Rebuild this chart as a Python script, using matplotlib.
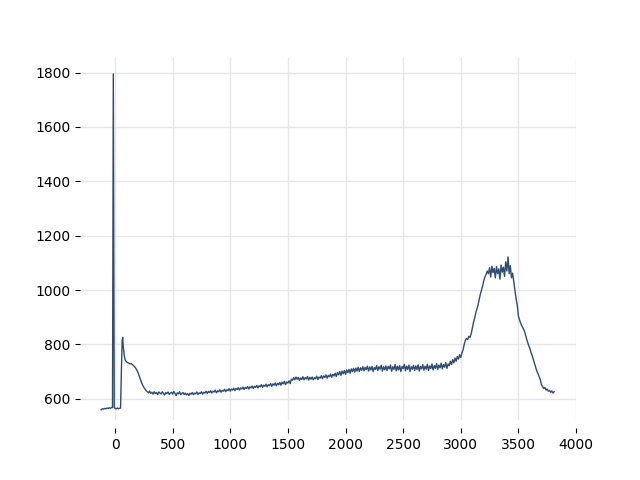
import matplotlib
matplotlib.use('Agg')
import matplotlib.pyplot as plt
import numpy as np

# leading part: baseline, narrow spike, second bump
x_start = [-120, -110, -100, -90, -80, -70, -60, -50, -40, -30, -22, -15, -7,
           0, 10, 20, 30, 40, 48, 55, 62, 66, 72, 80, 88]
y_start = [560, 563, 562, 565, 563, 566, 564, 567, 565, 568, 568, 1795, 568,
           565, 563, 566, 564, 565, 566, 700, 815, 826, 790, 760, 742]

# rest of the trace, one value every 10 units from x = 100
step = 10
y_main = [
    736, 733, 731, 728, 730, 726, 722, 718, 712, 705,           # 100
    696, 684, 672, 660, 650, 642, 636, 630, 626, 622,           # 200
    628, 620, 624, 617, 626, 619, 623, 615, 625, 621,           # 300
    618, 626, 620, 614, 623, 619, 625, 616, 621, 624,           # 400
    617, 627, 620, 612, 622, 618, 626, 615, 620, 623,           # 500
    616, 621, 614, 619, 612, 620, 617, 623, 615, 621,           # 600
    618, 625, 616, 622, 619, 626, 617, 624, 621, 628,           # 700
    620, 627, 623, 630, 621, 628, 625, 632, 622, 629,           # 800
    626, 633, 624, 631, 628, 635, 626, 633, 630, 637,           # 900
    628, 636, 632, 639, 630, 638, 634, 641, 632, 640,           # 1000
    636, 643, 634, 642, 638, 645, 636, 644, 640, 647,           # 1100
    638, 646, 642, 649, 640, 648, 644, 652, 642, 650,           # 1200
    646, 654, 644, 652, 648, 656, 646, 655, 650, 658,           # 1300
    648, 657, 652, 660, 650, 661, 655, 664, 652, 662,           # 1400
    658, 666, 656, 672, 668, 678, 670, 680, 672, 679,           # 1500
    668, 677, 671, 681, 670, 678, 673, 682, 669, 679,           # 1600
    672, 680, 670, 678, 674, 683, 671, 680, 676, 685,           # 1700
    674, 684, 678, 688, 676, 686, 681, 691, 679, 690,           # 1800
    684, 694, 682, 696, 688, 700, 686, 702, 692, 704,           # 1900
    690, 706, 696, 708, 694, 710, 700, 712, 698, 713,           # 2000
    702, 716, 700, 714, 705, 718, 703, 716, 707, 720,           # 2100
    702, 717, 706, 719, 700, 715, 708, 722, 704, 718,           # 2200
    709, 723, 702, 718, 707, 721, 704, 719, 710, 724,           # 2300
    701, 718, 708, 726, 703, 720, 706, 722, 700, 719,           # 2400
    711, 727, 703, 720, 708, 724, 701, 718, 709, 723,           # 2500
    704, 721, 708, 725, 702, 719, 710, 726, 705, 720,           # 2600
    709, 727, 704, 721, 711, 728, 706, 722, 712, 729,           # 2700
    708, 724, 714, 731, 710, 726, 716, 733, 712, 728,           # 2800
    722, 738, 726, 744, 732, 750, 738, 756, 746, 762,           # 2900
    752, 768, 780, 800, 815, 822, 818, 830, 826, 838,           # 3000
    858, 880, 895, 915, 930, 945, 965, 985, 1000, 1015,         # 3100
    1035, 1048, 1058, 1070, 1060, 1082, 1048, 1088, 1064, 1080, # 3200
    1045, 1086, 1060, 1078, 1040, 1092, 1066, 1084, 1050, 1104, # 3300
    1070, 1122, 1060, 1090, 1045, 1062, 1030, 1000, 968, 945,   # 3400
    905, 890, 878, 868, 860, 852, 838, 822, 808, 795,           # 3500
    785, 770, 758, 744, 730, 715, 702, 692, 682, 670,           # 3600
    652, 645, 638, 642, 632, 636, 628, 631, 624, 629,           # 3700
    621, 626,                                                   # 3800
]
x_main = list(np.arange(100, 100 + step * len(y_main), step))

x = x_start + x_main
y = y_start + y_main

fig = plt.figure(figsize=(6.4, 4.8), dpi=100)
ax = fig.add_subplot(111)
fig.subplots_adjust(left=0.125, right=0.9, top=0.88, bottom=0.125)

ax.plot(x, y, color='#2f4d73', linewidth=1.0)

for side in ['top', 'right', 'left', 'bottom']:
    ax.spines[side].set_visible(False)
ax.spines['bottom'].set_position(('outward', 6))

ax.grid(True, color='#e6e6e6', linewidth=1.0)
ax.set_axisbelow(True)

ax.set_xlim(-304, 4000)
ax.set_ylim(522, 1855)
ax.set_xticks([0, 500, 1000, 1500, 2000, 2500, 3000, 3500, 4000])
ax.set_yticks([600, 800, 1000, 1200, 1400, 1600, 1800])

plt.savefig('out.png', dpi=100)
